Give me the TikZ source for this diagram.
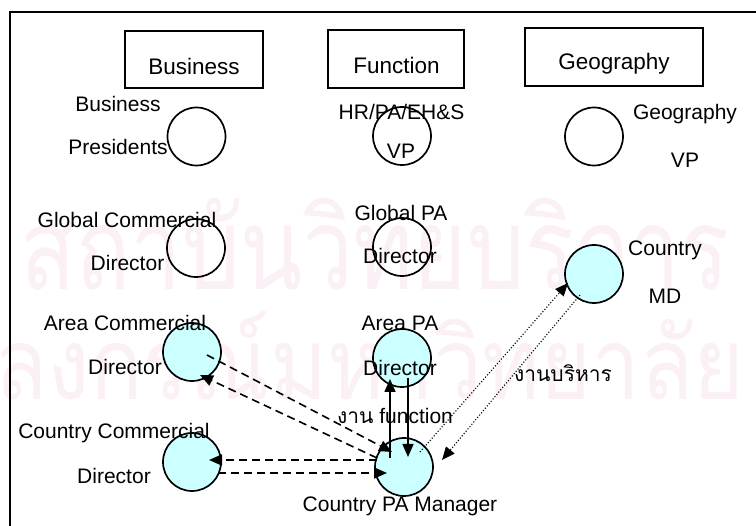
\documentclass[tikz,border=0pt]{standalone}
\usepackage{fontspec}
\setmainfont{Liberation Sans}
\newfontfamily\thaifont[Script=Thai]{Loma}
\usetikzlibrary{arrows.meta,calc}
\definecolor{rolefill}{HTML}{CCFFFF}
\definecolor{wmark}{HTML}{FAF0F5}
\begin{document}
\begin{tikzpicture}[x=1pt,y=-1pt,
  hdr/.style={draw,line width=1.7pt,inner sep=0},
  hdrtext/.style={inner sep=0,font=\fontsize{22.5}{22.5}\selectfont},
  role/.style={circle,draw,line width=1.7pt,minimum size=58pt,inner sep=0},
  active/.style={role,fill=rolefill},
  lbl/.style={inner sep=0,font=\fontsize{21}{21}\selectfont},
  tip/.style={-{Triangle[length=13pt,width=11pt]}},
  dashlink/.style={tip,line width=1.6pt,dash pattern=on 8pt off 5pt},
  solidlink/.style={tip,line width=1.6pt},
  dotlink/.style={tip,line width=1.1pt,dash pattern=on 1.1pt off 1.9pt},
  wmtext/.style={anchor=base west,inner sep=0,text=wmark},
]
\useasboundingbox (0,0) rectangle (756,526);
\begin{scope}
\clip (0,0) rectangle (756,526);
% faint background lettering
\node[wmtext,xscale=0.8,font=\thaifont\fontsize{114}{114}\selectfont] (wm1) at (20,290) {สถาบันวิทยบริการ};
\node[wmtext,xscale=0.87,font=\thaifont\fontsize{100}{100}\selectfont] (wm2) at (-165,400) {จุฬาลงกรณ์มหาวิทยาลัย};
% outer frame
\draw[line width=1.7pt] (10,12) rectangle (770,540);
\end{scope}

% column headers
\node[hdr,minimum width=138pt,minimum height=57pt] (hb) at (194,59.5) {};
\node[hdrtext] (hbt) at (194,66) {Business};
\node[hdr,minimum width=136pt,minimum height=58pt] (hf) at (396,59) {};
\node[hdrtext] (hft) at (396.5,65) {Function};
\node[hdr,minimum width=178pt,minimum height=58pt] (hg) at (614,57) {};
\node[hdrtext] (hgt) at (614,64) {Geography};

% roles
\node[role]   (bp)  at (196.5,136.5) {};
\node[role]   (fvp) at (402,136) {};
\node[role]   (gvp) at (594,136.5) {};
\node[role]   (gcd) at (196,248) {};
\node[role]   (gpa) at (402,247) {};
\node[active] (md)  at (594,274) {};
\node[active] (ac)  at (192,352) {};
\node[active] (apa) at (402,358) {};
\node[active] (cc)  at (192,462) {};
\node[active] (cpa) at (404,467) {};

% role labels
\node[lbl] (l1)  at (118,104) {Business};
\node[lbl] (l2)  at (118,147) {Presidents};
\node[lbl] (l3)  at (401.5,112) {HR/PA/EH\&S};
\node[lbl] (l4)  at (401,151.5) {VP};
\node[lbl] (l5)  at (685,114) {Geography};
\node[lbl] (l6)  at (685,160) {VP};
\node[lbl] (l7)  at (127,219.5) {Global Commercial};
\node[lbl] (l8)  at (127.5,263) {Director};
\node[lbl] (l9)  at (401,212.5) {Global PA};
\node[lbl] (l10) at (400,255.5) {Director};
\node[lbl] (l11) at (665,250) {Country};
\node[lbl] (l12) at (665,296.5) {MD};
\node[lbl] (l13) at (125,322.5) {Area Commercial};
\node[lbl] (l14) at (125,366.5) {Director};
\node[lbl] (l15) at (400,323) {Area PA};
\node[lbl] (l16) at (400,367.5) {Director};
\node[lbl] (l17) at (114,433) {Country Commercial};
\node[lbl] (l18) at (114,476) {Director};
\node[lbl] (l19) at (400,506.5) {Country PA Manager};
\node[lbl] (t1)  at (395,416) {{\thaifont งาน} function};
\node[lbl] (t2)  at (563,373) {\thaifont งานบริหาร};

% reporting lines
\draw[dashlink]  ($(ac)+(15,3)$)    -- ($(cpa)+(-12,-15)$);
\draw[dashlink]  ($(cpa)+(-27,-9)$) -- ($(ac)+(8,23)$);
\draw[dashlink]  ($(cpa)+(-27,-7)$) -- ($(cc)+(17,-2)$);
\draw[dashlink]  ($(cc)+(26,11)$)   -- ($(cpa)+(-17,6)$);
\draw[solidlink] ($(cpa)+(-14,-9)$) -- ($(apa)+(-12,21)$);
\draw[solidlink] ($(apa)+(6,20)$)   -- ($(cpa)+(4,-10)$);
\draw[dotlink]   ($(cpa)+(16,-15)$) -- ($(md)+(-26,9)$);
\draw[dotlink]   ($(md)+(-14,21)$)  -- ($(cpa)+(38,-7)$);
\end{tikzpicture}
\end{document}
